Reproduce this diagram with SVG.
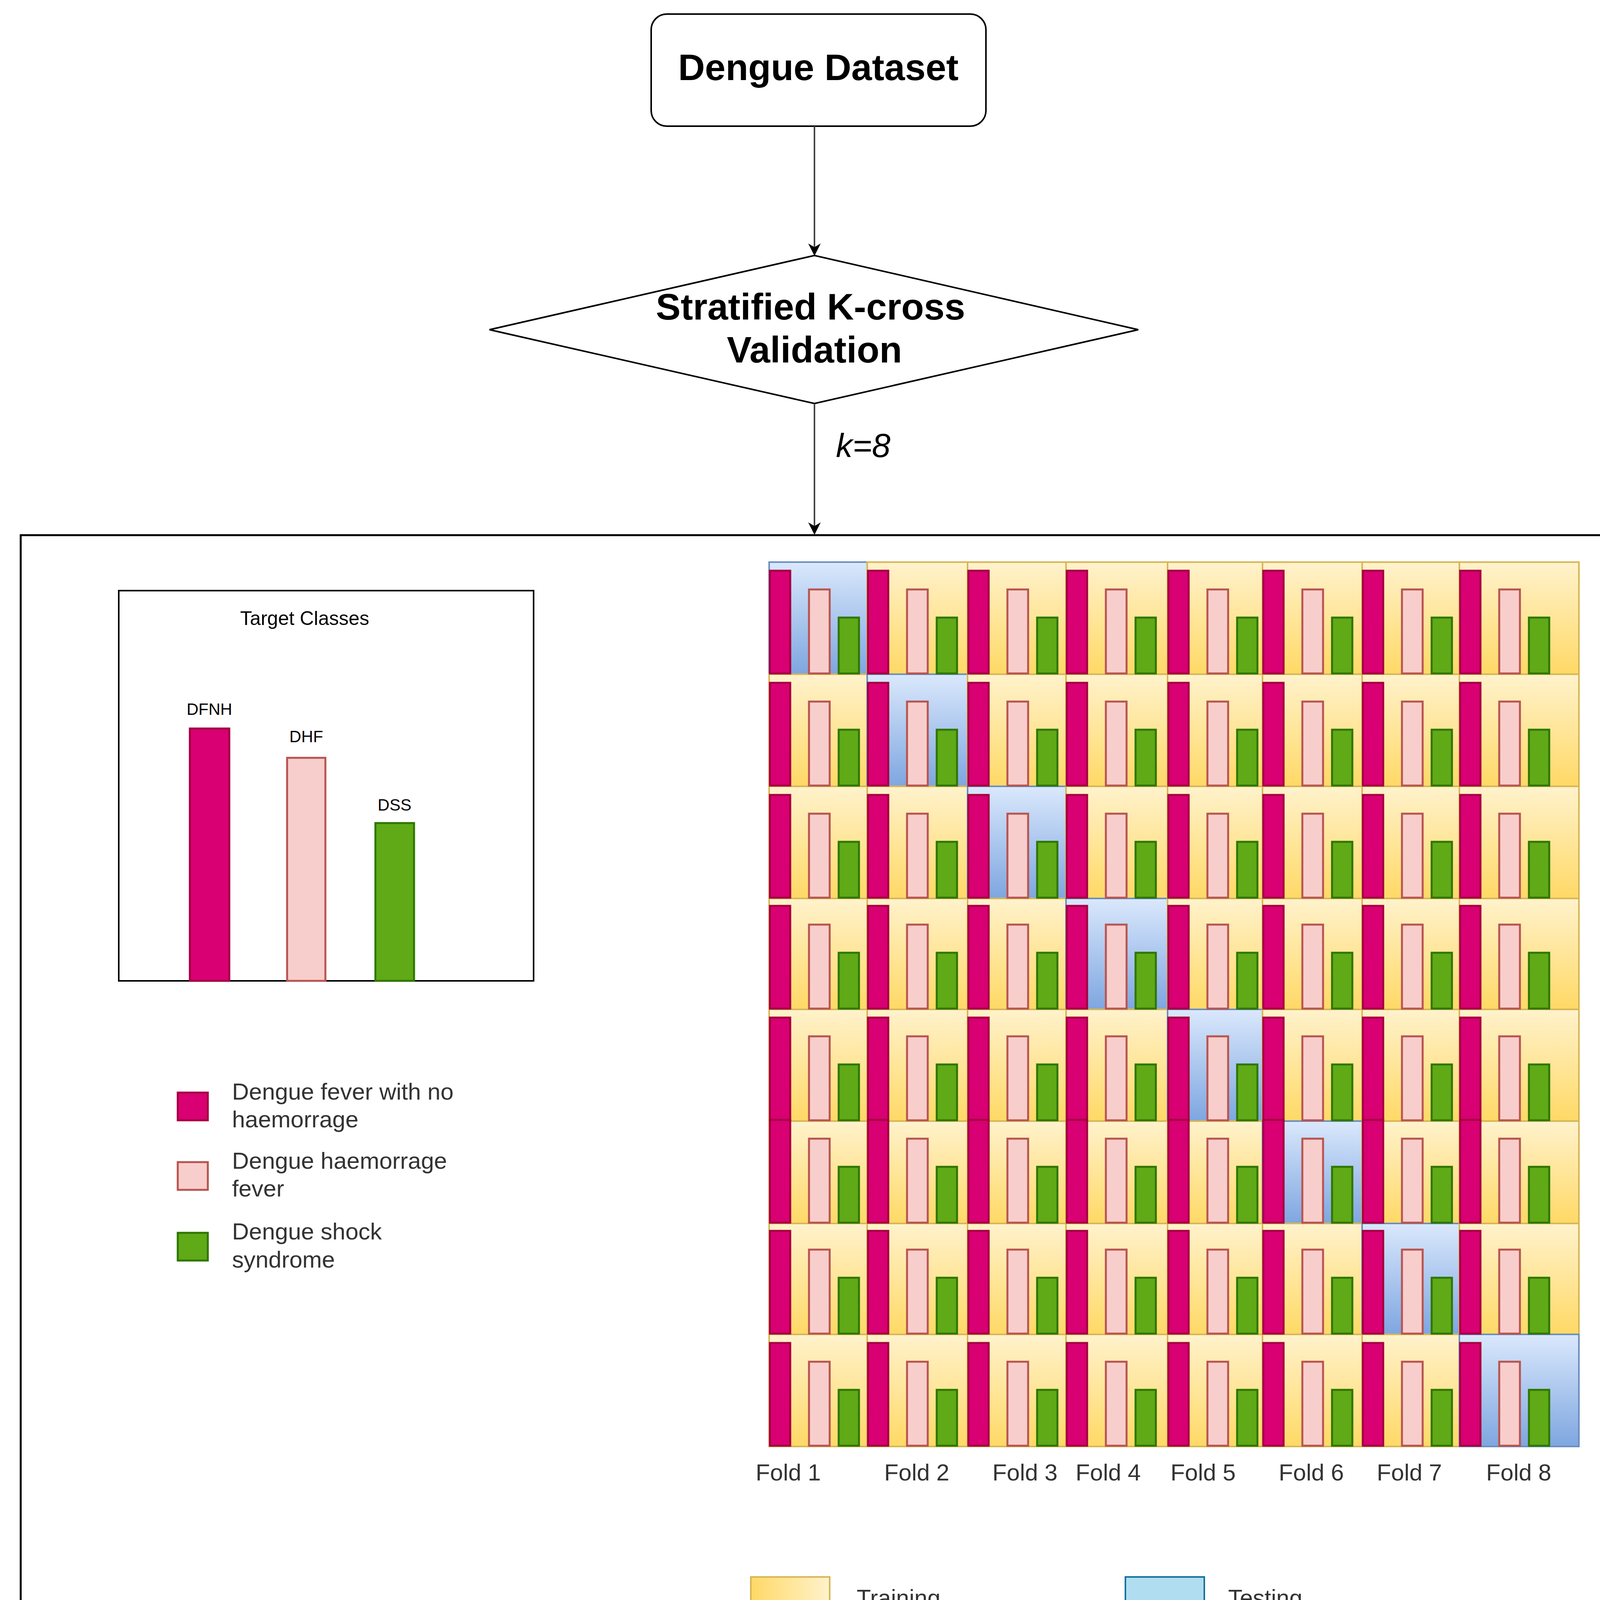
<svg xmlns="http://www.w3.org/2000/svg" xmlns:xlink="http://www.w3.org/1999/xlink" width="4335" height="4365" viewBox="0 0 4335 4365">
<style>
text{font-family:"Liberation Sans",Arial,sans-serif;fill:#000}
.tr{fill:url(#gTr);stroke:#d6b656;stroke-width:4}
.te{fill:url(#gTe);stroke:#6c8ebf;stroke-width:4}
.mg{fill:#d80073;stroke:#a50040;stroke-width:5}
.pk{fill:#f8cecc;stroke:#b85450;stroke-width:5}
.gr{fill:#60a917;stroke:#2d7600;stroke-width:5}
.lg{font-size:60px;fill:#333}
.fl{font-size:60px;fill:#333;text-anchor:middle}
.ln{stroke:#444;stroke-width:4;fill:none}
</style>
<defs>
<linearGradient id="gTr" x1="0" y1="0" x2="0" y2="1"><stop offset="0" stop-color="#fff2cc"/><stop offset="1" stop-color="#ffd966"/></linearGradient>
<linearGradient id="gTe" x1="0" y1="0" x2="0" y2="1"><stop offset="0" stop-color="#dae8fc"/><stop offset="1" stop-color="#7ea6e0"/></linearGradient>
<linearGradient id="gTrH" x1="0" y1="0" x2="1" y2="0"><stop offset="0" stop-color="#ffd966"/><stop offset="1" stop-color="#fff2cc"/></linearGradient>
<marker id="ar" viewBox="0 0 10 10" refX="9" refY="5" markerWidth="32" markerHeight="32" markerUnits="userSpaceOnUse" orient="auto"><path d="M0,0 L10,5 L0,10 L3,5 z" fill="#000"/></marker>
<g id="bars">
<rect class="mg" x="2" y="-265" width="52" height="263"/>
<rect class="pk" x="102" y="-217" width="53" height="215"/>
<rect class="gr" x="178" y="-145" width="52" height="143"/>
</g>
</defs>
<rect width="4335" height="4365" fill="#fff"/>
<g id="dataset"><rect x="1667" y="36" width="857" height="287" rx="40" fill="#fff" stroke="#000" stroke-width="4"/><text x="2095" y="205" font-size="95" font-weight="bold" text-anchor="middle">Dengue Dataset</text></g>
<g id="skcv"><polygon points="1253,844 2085,654 2914,844 2085,1033" fill="#fff" stroke="#000" stroke-width="4"/><text x="2075" y="818" font-size="95" font-weight="bold" text-anchor="middle">Stratified K-cross</text><text x="2085" y="928" font-size="95" font-weight="bold" text-anchor="middle">Validation</text></g>
<g id="connectors">
<line class="ln" x1="2085" y1="323" x2="2085" y2="652" marker-end="url(#ar)"/>
<line class="ln" x1="2085" y1="1033" x2="2085" y2="1366" marker-end="url(#ar)"/>
</g>
<text x="2140" y="1170" font-size="85" font-style="italic" fill="#333">k=8</text>
<g id="container"><rect x="53" y="1370" width="4241" height="2951" fill="none" stroke="#000" stroke-width="5"/></g>
<g id="target-classes">
<rect x="304" y="1512" width="1062" height="999" fill="#fff" stroke="#000" stroke-width="4"/>
<text x="780" y="1600" font-size="50" text-anchor="middle">Target Classes</text>
<rect class="mg" x="486" y="1865" width="101" height="646"/><text x="536" y="1830" font-size="42" text-anchor="middle">DFNH</text>
<rect class="pk" x="735" y="1940" width="98" height="571"/><text x="784" y="1900" font-size="42" text-anchor="middle">DHF</text>
<rect class="gr" x="961" y="2107" width="99" height="404"/><text x="1010" y="2075" font-size="42" text-anchor="middle">DSS</text>
</g>
<g id="class-legend">
<rect class="mg" x="455" y="2797" width="77" height="71"/><text class="lg" x="594" y="2815">Dengue fever with no</text><text class="lg" x="594" y="2886">haemorrage</text>
<rect class="pk" x="455" y="2975" width="77" height="71"/><text class="lg" x="594" y="2992">Dengue haemorrage</text><text class="lg" x="594" y="3063">fever</text>
<rect class="gr" x="455" y="3156" width="77" height="71"/><text class="lg" x="594" y="3173">Dengue shock</text><text class="lg" x="594" y="3245">syndrome</text>
</g>
<g id="folds">
<rect class="te" x="1969" y="1439" width="251" height="287"/><rect class="tr" x="2220" y="1439" width="257" height="287"/><rect class="tr" x="2477" y="1439" width="252" height="287"/><rect class="tr" x="2729" y="1439" width="260" height="287"/><rect class="tr" x="2989" y="1439" width="243" height="287"/><rect class="tr" x="3232" y="1439" width="255" height="287"/><rect class="tr" x="3487" y="1439" width="249" height="287"/><rect class="tr" x="3736" y="1439" width="306" height="287"/>
<rect class="tr" x="1969" y="1726" width="251" height="287"/><rect class="te" x="2220" y="1726" width="257" height="287"/><rect class="tr" x="2477" y="1726" width="252" height="287"/><rect class="tr" x="2729" y="1726" width="260" height="287"/><rect class="tr" x="2989" y="1726" width="243" height="287"/><rect class="tr" x="3232" y="1726" width="255" height="287"/><rect class="tr" x="3487" y="1726" width="249" height="287"/><rect class="tr" x="3736" y="1726" width="306" height="287"/>
<rect class="tr" x="1969" y="2013" width="251" height="287"/><rect class="tr" x="2220" y="2013" width="257" height="287"/><rect class="te" x="2477" y="2013" width="252" height="287"/><rect class="tr" x="2729" y="2013" width="260" height="287"/><rect class="tr" x="2989" y="2013" width="243" height="287"/><rect class="tr" x="3232" y="2013" width="255" height="287"/><rect class="tr" x="3487" y="2013" width="249" height="287"/><rect class="tr" x="3736" y="2013" width="306" height="287"/>
<rect class="tr" x="1969" y="2300" width="251" height="284"/><rect class="tr" x="2220" y="2300" width="257" height="284"/><rect class="tr" x="2477" y="2300" width="252" height="284"/><rect class="te" x="2729" y="2300" width="260" height="284"/><rect class="tr" x="2989" y="2300" width="243" height="284"/><rect class="tr" x="3232" y="2300" width="255" height="284"/><rect class="tr" x="3487" y="2300" width="249" height="284"/><rect class="tr" x="3736" y="2300" width="306" height="284"/>
<rect class="tr" x="1969" y="2584" width="251" height="286"/><rect class="tr" x="2220" y="2584" width="257" height="286"/><rect class="tr" x="2477" y="2584" width="252" height="286"/><rect class="tr" x="2729" y="2584" width="260" height="286"/><rect class="te" x="2989" y="2584" width="243" height="286"/><rect class="tr" x="3232" y="2584" width="255" height="286"/><rect class="tr" x="3487" y="2584" width="249" height="286"/><rect class="tr" x="3736" y="2584" width="306" height="286"/>
<rect class="tr" x="1969" y="2870" width="251" height="262"/><rect class="tr" x="2220" y="2870" width="257" height="262"/><rect class="tr" x="2477" y="2870" width="252" height="262"/><rect class="tr" x="2729" y="2870" width="260" height="262"/><rect class="tr" x="2989" y="2870" width="243" height="262"/><rect class="te" x="3232" y="2870" width="255" height="262"/><rect class="tr" x="3487" y="2870" width="249" height="262"/><rect class="tr" x="3736" y="2870" width="306" height="262"/>
<rect class="tr" x="1969" y="3132" width="251" height="284"/><rect class="tr" x="2220" y="3132" width="257" height="284"/><rect class="tr" x="2477" y="3132" width="252" height="284"/><rect class="tr" x="2729" y="3132" width="260" height="284"/><rect class="tr" x="2989" y="3132" width="243" height="284"/><rect class="tr" x="3232" y="3132" width="255" height="284"/><rect class="te" x="3487" y="3132" width="249" height="284"/><rect class="tr" x="3736" y="3132" width="306" height="284"/>
<rect class="tr" x="1969" y="3416" width="251" height="287"/><rect class="tr" x="2220" y="3416" width="257" height="287"/><rect class="tr" x="2477" y="3416" width="252" height="287"/><rect class="tr" x="2729" y="3416" width="260" height="287"/><rect class="tr" x="2989" y="3416" width="243" height="287"/><rect class="tr" x="3232" y="3416" width="255" height="287"/><rect class="tr" x="3487" y="3416" width="249" height="287"/><rect class="te" x="3736" y="3416" width="306" height="287"/>
</g>
<g id="bars-grid">
<use href="#bars" x="1969" y="1726"/><use href="#bars" x="2220" y="1726"/><use href="#bars" x="2477" y="1726"/><use href="#bars" x="2729" y="1726"/><use href="#bars" x="2989" y="1726"/><use href="#bars" x="3232" y="1726"/><use href="#bars" x="3487" y="1726"/><use href="#bars" x="3736" y="1726"/>
<use href="#bars" x="1969" y="2013"/><use href="#bars" x="2220" y="2013"/><use href="#bars" x="2477" y="2013"/><use href="#bars" x="2729" y="2013"/><use href="#bars" x="2989" y="2013"/><use href="#bars" x="3232" y="2013"/><use href="#bars" x="3487" y="2013"/><use href="#bars" x="3736" y="2013"/>
<use href="#bars" x="1969" y="2300"/><use href="#bars" x="2220" y="2300"/><use href="#bars" x="2477" y="2300"/><use href="#bars" x="2729" y="2300"/><use href="#bars" x="2989" y="2300"/><use href="#bars" x="3232" y="2300"/><use href="#bars" x="3487" y="2300"/><use href="#bars" x="3736" y="2300"/>
<use href="#bars" x="1969" y="2584"/><use href="#bars" x="2220" y="2584"/><use href="#bars" x="2477" y="2584"/><use href="#bars" x="2729" y="2584"/><use href="#bars" x="2989" y="2584"/><use href="#bars" x="3232" y="2584"/><use href="#bars" x="3487" y="2584"/><use href="#bars" x="3736" y="2584"/>
<use href="#bars" x="1969" y="2870"/><use href="#bars" x="2220" y="2870"/><use href="#bars" x="2477" y="2870"/><use href="#bars" x="2729" y="2870"/><use href="#bars" x="2989" y="2870"/><use href="#bars" x="3232" y="2870"/><use href="#bars" x="3487" y="2870"/><use href="#bars" x="3736" y="2870"/>
<use href="#bars" x="1969" y="3132"/><use href="#bars" x="2220" y="3132"/><use href="#bars" x="2477" y="3132"/><use href="#bars" x="2729" y="3132"/><use href="#bars" x="2989" y="3132"/><use href="#bars" x="3232" y="3132"/><use href="#bars" x="3487" y="3132"/><use href="#bars" x="3736" y="3132"/>
<use href="#bars" x="1969" y="3416"/><use href="#bars" x="2220" y="3416"/><use href="#bars" x="2477" y="3416"/><use href="#bars" x="2729" y="3416"/><use href="#bars" x="2989" y="3416"/><use href="#bars" x="3232" y="3416"/><use href="#bars" x="3487" y="3416"/><use href="#bars" x="3736" y="3416"/>
<use href="#bars" x="1969" y="3703"/><use href="#bars" x="2220" y="3703"/><use href="#bars" x="2477" y="3703"/><use href="#bars" x="2729" y="3703"/><use href="#bars" x="2989" y="3703"/><use href="#bars" x="3232" y="3703"/><use href="#bars" x="3487" y="3703"/><use href="#bars" x="3736" y="3703"/>
</g>
<g id="fold-labels">
<text class="fl" x="2018" y="3790">Fold 1</text><text class="fl" x="2347" y="3790">Fold 2</text><text class="fl" x="2624" y="3790">Fold 3</text><text class="fl" x="2837" y="3790">Fold 4</text><text class="fl" x="3080" y="3790">Fold 5</text><text class="fl" x="3357" y="3790">Fold 6</text><text class="fl" x="3608" y="3790">Fold 7</text><text class="fl" x="3888" y="3790">Fold 8</text>
</g>
<g id="data-legend">
<rect x="1922" y="4037" width="202" height="189" fill="url(#gTrH)" stroke="#d6b656" stroke-width="4"/><text class="lg" x="2193" y="4111">Training</text><text class="lg" x="2193" y="4183">data</text>
<rect x="2881" y="4037" width="202" height="189" fill="#b1ddf0" stroke="#10739e" stroke-width="4"/><text class="lg" x="3144" y="4111">Testing</text><text class="lg" x="3144" y="4183">data</text>
</g>
</svg>
